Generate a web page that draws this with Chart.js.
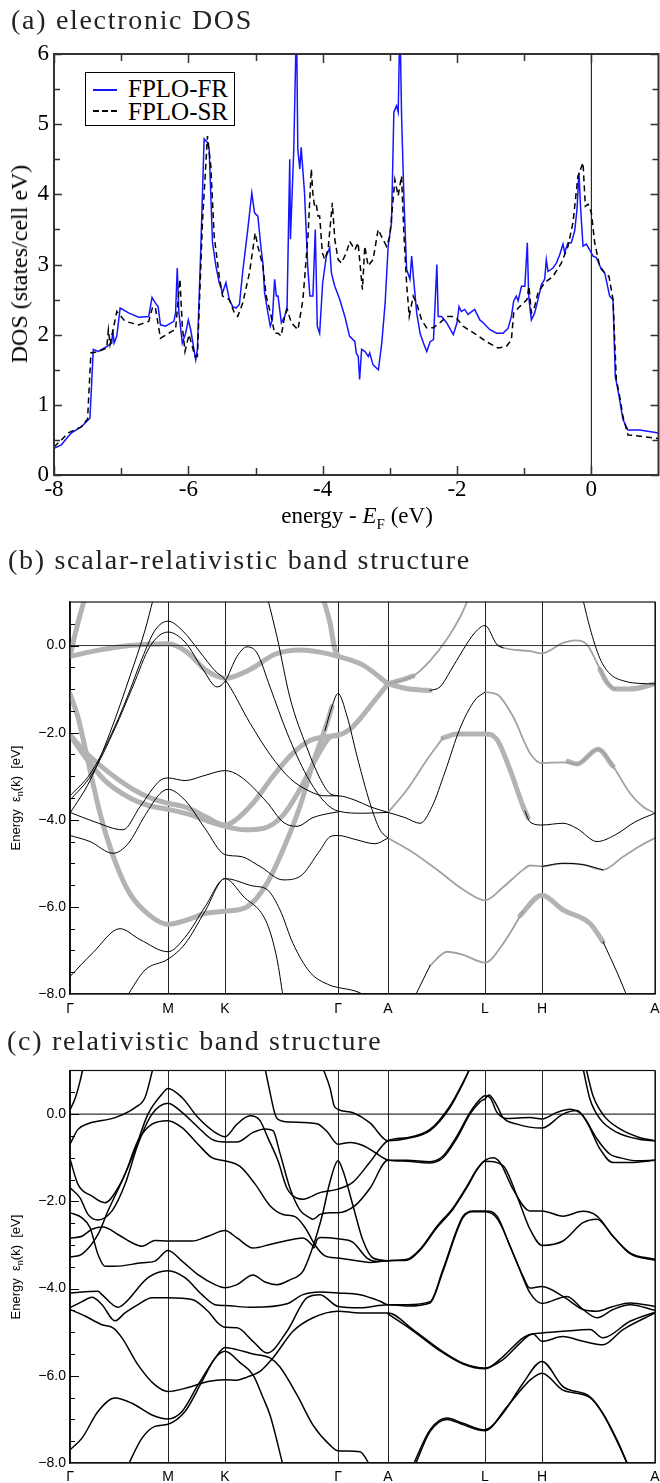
<!DOCTYPE html>
<html><head><meta charset="utf-8">
<script src="https://cdn.jsdelivr.net/npm/chart.js@4.4.0/dist/chart.umd.min.js"></script>
<style>
body{margin:0;background:#fff;width:660px;height:1483px;position:relative;overflow:hidden;}
.t{position:absolute;font-family:"Liberation Serif",serif;color:#222;white-space:nowrap;line-height:1;}
.ttl{font-size:28px;letter-spacing:1.7px;}
.rot{transform:translate(-50%,-50%) rotate(-90deg);}
canvas{position:absolute;left:0;}
</style></head><body>

<canvas id="cA" width="660" height="545" style="top:0px;width:660px;height:545px"></canvas>
<canvas id="cB" width="660" height="435" style="top:585px;width:660px;height:435px"></canvas>
<canvas id="cC" width="660" height="428" style="top:1055px;width:660px;height:428px"></canvas>

<div class="t ttl" style="left:11px;top:6px;">(a) electronic DOS</div>
<div class="t ttl" style="left:8px;top:546px;">(b) scalar-relativistic band structure</div>
<div class="t ttl" style="left:7px;top:1027px;">(c) relativistic band structure</div>

<div class="t" style="left:357px;top:518px;font-size:23px;transform:translate(-50%,-50%);color:#000">energy - <i>E</i><sub style="font-size:15px">F</sub> (eV)</div>
<div class="t rot" style="left:19px;top:264px;font-size:24px;color:#000">DOS (states/cell eV)</div>
<div class="t rot" style="left:17px;top:798px;font-size:13px;font-family:'Liberation Sans',sans-serif;color:#000">Energy&nbsp;&nbsp;ε<sub style="font-size:9px">n</sub>(k)&nbsp;&nbsp;[eV]</div>
<div class="t rot" style="left:17px;top:1267px;font-size:13px;font-family:'Liberation Sans',sans-serif;color:#000">Energy&nbsp;&nbsp;ε<sub style="font-size:9px">n</sub>(k)&nbsp;&nbsp;[eV]</div>

<div style="position:absolute;left:85px;top:72px;width:148px;height:52px;border:1px solid #000;background:#fff;">
  <div style="position:absolute;left:7px;top:16px;width:24px;border-top:2px solid #1515ff"></div>
  <div class="t" style="left:42px;top:3px;font-size:25px;color:#000">FPLO-FR</div>
  <div style="position:absolute;left:7px;top:37px;width:24px;border-top:2px dashed #000"></div>
  <div class="t" style="left:42px;top:26px;font-size:25px;color:#000">FPLO-SR</div>
</div>

<script>
// ================= DATA =================
// (a) DOS, full relativistic (FPLO-FR)
const dosEnergyFR = [-8.0,-7.89,-7.79,-7.74,-7.59,-7.465,-7.415,-7.34,-7.215,-7.14,
 -7.125,-7.105,-7.065,-7.015,-6.89,-6.74,-6.59,-6.54,-6.49,-6.45,
 -6.415,-6.34,-6.215,-6.19,-6.165,-6.14,-6.09,-6.04,-6.0,-5.965,
 -5.89,-5.865,-5.815,-5.765,-5.715,-5.69,-5.64,-5.59,-5.54,-5.49,
 -5.44,-5.39,-5.34,-5.29,-5.24,-5.19,-5.115,-5.055,-5.015,-4.99,
 -4.965,-4.915,-4.89,-4.865,-4.815,-4.78,-4.75,-4.715,-4.69,-4.665,
 -4.615,-4.565,-4.53,-4.49,-4.48,-4.43,-4.39,-4.37,-4.34,-4.32,
 -4.27,-4.22,-4.19,-4.145,-4.11,-4.08,-4.045,-4.0,-3.945,-3.895,
 -3.87,-3.82,-3.745,-3.67,-3.6,-3.52,-3.5,-3.47,-3.45,-3.42,
 -3.37,-3.32,-3.3,-3.25,-3.17,-3.12,-3.07,-3.025,-2.975,-2.94,
 -2.9,-2.875,-2.85,-2.825,-2.79,-2.75,-2.7,-2.675,-2.65,-2.6,
 -2.55,-2.5,-2.45,-2.4,-2.35,-2.3,-2.28,-2.23,-2.155,-2.055,
 -2.0,-1.97,-1.935,-1.886,-1.836,-1.737,-1.66,-1.61,-1.51,-1.41,
 -1.315,-1.24,-1.19,-1.156,-1.117,-1.09,-1.04,-0.99,-0.953,-0.933,
 -0.893,-0.844,-0.794,-0.744,-0.695,-0.67,-0.645,-0.571,-0.521,-0.471,
 -0.422,-0.397,-0.347,-0.298,-0.248,-0.213,-0.184,-0.159,-0.124,-0.074,
 -0.025,0.025,0.074,0.149,0.199,0.273,0.323,0.357,0.397,0.471,
 0.546,0.72,1.0];
const dosFR = [0.38,0.43,0.55,0.60,0.69,0.81,1.79,1.76,1.83,1.88,
 2.07,1.88,1.98,2.38,2.31,2.25,2.26,2.53,2.45,2.4,
 2.14,2.12,2.19,2.31,2.95,2.31,1.88,2.02,2.21,2.07,
 1.64,1.79,3.21,4.79,4.74,4.64,3.31,2.98,2.74,2.6,
 2.74,2.5,2.4,2.38,2.43,2.9,3.5,4.02,3.74,3.71,
 3.69,3.21,3.02,2.6,2.31,2.12,2.21,2.79,2.55,2.55,
 2.17,2.26,2.4,4.5,3.36,4.64,6.5,4.64,4.36,4.67,
 4.02,2.93,2.55,2.55,3.5,2.12,2.02,2.74,3.12,3.24,
 2.88,2.69,2.5,2.26,1.98,1.9,1.74,1.69,1.36,1.79,
 1.76,1.69,1.74,1.57,1.5,1.88,2.45,3.26,3.6,5.17,
 5.26,5.17,6.5,5.12,3.93,2.93,2.79,3.12,2.83,2.31,
 2.02,1.88,1.76,1.9,1.93,3.0,2.26,2.26,2.17,2.0,
 2.17,2.4,2.33,2.36,2.29,2.36,2.21,2.17,2.07,2.02,
 2.02,2.09,2.26,2.48,2.55,2.48,2.69,2.69,3.31,2.55,
 2.21,2.31,2.5,2.71,2.79,3.07,2.9,2.95,3.02,3.14,
 3.29,3.17,3.31,3.31,3.48,3.79,4.31,3.79,3.26,3.29,
 3.21,3.12,3.1,2.93,2.88,2.55,2.5,1.4,1.21,0.79,
 0.64,0.64,0.6];
// (a) DOS, scalar relativistic (FPLO-SR)
const dosEnergySR = [-8.0,-7.89,-7.79,-7.59,-7.5,-7.45,-7.34,-7.215,-7.19,-7.165,
 -7.065,-6.94,-6.74,-6.59,-6.53,-6.49,-6.415,-6.24,-6.19,-6.125,
 -6.09,-6.05,-5.99,-5.9,-5.865,-5.79,-5.715,-5.665,-5.615,-5.54,
 -5.49,-5.39,-5.315,-5.265,-5.19,-5.09,-5.005,-4.965,-4.89,-4.84,
 -4.766,-4.716,-4.667,-4.617,-4.567,-4.527,-4.468,-4.368,-4.294,-4.219,
 -4.169,-4.144,-4.119,-4.095,-4.07,-4.045,-4.005,-3.97,-3.92,-3.856,
 -3.82,-3.77,-3.72,-3.647,-3.597,-3.52,-3.473,-3.408,-3.373,-3.323,
 -3.249,-3.174,-3.124,-3.05,-3.0,-2.925,-2.876,-2.826,-2.791,-2.751,
 -2.711,-2.652,-2.602,-2.527,-2.453,-2.353,-2.254,-2.154,-2.055,-2.01,
 -1.91,-1.712,-1.563,-1.39,-1.266,-1.19,-1.156,-1.067,-0.958,-0.928,
 -0.893,-0.844,-0.794,-0.695,-0.571,-0.447,-0.347,-0.273,-0.199,-0.124,
 -0.089,-0.05,0.0,0.05,0.124,0.199,0.263,0.323,0.372,0.422,
 0.471,0.546,0.67,1.0];
const dosSR = [0.40,0.5,0.6,0.69,0.8,1.74,1.76,1.81,2.07,1.86,
 2.33,2.19,2.14,2.19,2.4,2.38,1.95,2.05,2.07,2.79,
 2.12,1.76,2.0,1.69,1.69,3.6,4.83,4.4,3.4,2.83,
 2.55,2.5,2.31,2.26,2.45,2.88,3.45,3.26,2.98,2.55,
 2.26,2.02,2.02,1.98,2.26,2.36,2.17,2.07,2.5,3.4,
 4.36,3.98,3.83,3.86,3.69,3.69,3.17,3.07,3.21,3.88,
 3.36,3.07,3.02,3.17,3.33,3.21,3.31,2.64,3.26,2.98,
 3.07,3.5,3.4,3.26,3.4,4.21,3.98,4.26,3.45,2.74,
 2.26,2.55,2.45,2.21,2.1,2.1,2.17,2.26,2.26,2.24,
 2.12,2.0,1.9,1.81,1.83,1.93,2.31,2.4,2.5,2.69,
 2.31,2.4,2.6,2.74,2.83,3.02,3.26,3.6,4.26,4.45,
 3.83,3.86,3.74,3.31,2.98,2.88,2.83,2.5,1.36,1.12,
 0.83,0.57,0.56,0.52];
const fermiLineDOS = [[0,0],[0,6]];
const dosXLabelTicks = [-8,-6,-4,-2,0];
const dosXMinorTicks = [-7,-5,-3,-1];
const dosYLabelTicks = [0,1,2,3,4,5,6];
const dosYMinorTicks = [0.5,1.5,2.5,3.5,4.5,5.5];

// band structure path
const kPoints = [0,0.98,1.55,2.68,3.18,4.15,4.72,5.85];
const kLabels = ['Γ','M','K','Γ','A','L','H','A'];
const bandYLabelTicks = [-8,-6,-4,-2,0];
const bandYMajorInner = [-6,-4,-2,0];
const bandYMinorInner = [-7.5,-7,-6.5,-5.5,-5,-4.5,-3.5,-3,-2.5,-1.5,-1,-0.5,0.5];
const fermiLineBand = [[0,0],[5.85,0]];

// (b) scalar-relativistic: thin black bands [k, E]
const srBlack = [
 [[0,-3.45],[0.2,-2.95],[0.4,-2.1],[0.57,-1.2],[0.72,-0.3],[0.85,0.35],[0.98,0.56],[1.13,0.33],[1.3,-0.15],[1.45,-0.58],[1.55,-0.78],[1.8,-1.78],[2.0,-2.5],[2.2,-3.05],[2.4,-3.35],[2.55,-3.45],[2.68,-3.45],[2.85,-3.55],[3.0,-3.7],[3.18,-3.83]],
 [[0,-3.55],[0.22,-2.95],[0.45,-1.9],[0.63,-0.93],[0.8,-0.02],[0.98,0.31],[1.15,0.08],[1.33,-0.55],[1.47,-0.95],[1.55,-0.82],[1.67,-0.25],[1.77,-0.03],[1.87,-0.17],[2.0,-0.95],[2.17,-2.0],[2.37,-3.0],[2.55,-3.6],[2.68,-3.8],[2.93,-3.85],[3.18,-3.83]],
 [[0,-3.85],[0.2,-3.1],[0.4,-2.0],[0.6,-0.7],[0.75,0.35],[0.83,1.05]],
 [[1.98,1.05],[2.07,0.2],[2.2,-1.2],[2.37,-2.35],[2.5,-3.05],[2.6,-3.4],[2.68,-3.45]],
 [[0,-3.83],[0.25,-4.05],[0.53,-4.23],[0.7,-3.7],[0.9,-3.1],[0.98,-3.04],[1.15,-3.1],[1.35,-2.98],[1.55,-2.87],[1.7,-3.0],[1.97,-3.6],[2.13,-4.05],[2.27,-4.15],[2.43,-3.95],[2.6,-3.85],[2.68,-3.82]],
 [[0,-4.36],[0.2,-4.5],[0.43,-4.77],[0.58,-4.55],[0.75,-3.9],[0.9,-3.4],[0.98,-3.3],[1.15,-3.55],[1.35,-4.2],[1.55,-4.8],[1.7,-4.84],[1.9,-5.07],[2.13,-5.38],[2.3,-5.3],[2.5,-4.7],[2.6,-4.39],[2.68,-4.36],[2.85,-4.45],[3.05,-4.55],[3.18,-4.42]],
 [[0,-7.6],[0.23,-7.05],[0.5,-6.5],[0.7,-6.75],[0.98,-7.03],[1.15,-6.7],[1.35,-6.0],[1.55,-5.35],[1.73,-5.75],[1.97,-6.38],[2.07,-7.2],[2.13,-8.05]],
 [[0.57,-8.05],[0.75,-7.45],[0.98,-7.2],[1.15,-6.85],[1.35,-6.1],[1.55,-5.35],[1.83,-5.52],[1.97,-5.6],[2.1,-6.07],[2.23,-6.84],[2.4,-7.5],[2.6,-7.8],[2.68,-7.85],[2.85,-7.93],[2.97,-8.05]],
 [[2.55,-1.95],[2.62,-1.4],[2.68,-1.1],[2.77,-1.62],[2.87,-2.54],[3.0,-3.62],[3.1,-4.23],[3.18,-4.42]],
 [[3.18,-3.83],[3.35,-3.95],[3.5,-4.08],[3.62,-3.7],[3.75,-2.9],[3.9,-1.9],[4.05,-1.25],[4.15,-1.07]],
 [[3.6,-1.03],[3.7,-0.95],[3.8,-0.6],[3.93,-0.1],[4.05,0.3],[4.15,0.46],[4.27,0.02],[4.33,-0.05]],
 [[5.13,1.05],[5.2,0.4],[5.3,-0.3],[5.4,-0.65],[5.55,-0.82],[5.7,-0.87],[5.85,-0.88]],
 [[4.55,-3.8],[4.6,-4.05],[4.72,-4.12],[4.93,-4.08],[5.07,-4.2],[5.27,-4.5],[5.45,-4.35],[5.65,-4.05],[5.85,-3.85]],
 [[4.72,-5.07],[4.93,-5.0],[5.13,-5.03],[5.33,-5.15]],
 [[3.45,-8.05],[3.6,-7.35]],
 [[5.33,-6.8],[5.47,-7.5],[5.57,-8.05]]
];
// (b) thin grey (low weight) bands
const srGreyThin = [
 [[4.15,-1.07],[4.27,-1.12],[4.43,-1.63],[4.6,-2.47],[4.72,-2.7],[4.93,-2.68],[5.07,-2.72],[5.28,-2.38],[5.43,-2.77],[5.6,-3.39],[5.73,-3.7],[5.85,-3.85]],
 [[4.27,0.02],[4.33,-0.05],[4.6,-0.13],[4.72,-0.18],[4.93,0.06],[5.05,0.12],[5.17,0.02],[5.27,-0.4],[5.37,-0.85],[5.45,-1.0]],
 [[3.18,-0.88],[3.43,-0.7],[3.6,-0.35],[3.77,0.15],[3.9,0.65],[3.98,1.05]],
 [[3.18,-3.83],[3.37,-3.31],[3.57,-2.62],[3.73,-2.12]],
 [[3.18,-4.42],[3.43,-4.75],[3.7,-5.2],[3.93,-5.6],[4.15,-5.85],[4.33,-5.55],[4.53,-5.15],[4.6,-5.05],[4.72,-5.07],[4.93,-5.0],[5.13,-5.03],[5.33,-5.15],[5.53,-4.85],[5.7,-4.6],[5.85,-4.42]],
 [[3.6,-7.35],[3.77,-7.03],[3.93,-7.1],[4.15,-7.28],[4.33,-6.85],[4.53,-6.1]]
];
// (b) fat (high weight) bands
const srFat = [
 [[0,-0.25],[0.3,-0.1],[0.6,0.0],[0.98,0.04],[1.17,-0.15],[1.35,-0.55],[1.55,-0.75],[1.8,-0.55],[2.05,-0.2],[2.3,-0.1],[2.5,-0.15],[2.68,-0.25],[2.93,-0.45],[3.18,-0.88]],
 [[0,-0.25],[0.05,0.25],[0.1,0.7],[0.15,1.1]],
 [[2.53,1.1],[2.6,0.52],[2.65,-0.1],[2.68,-0.22]],
 [[0,-2.05],[0.13,-2.39],[0.3,-2.75],[0.63,-3.3],[0.83,-3.52],[0.98,-3.62],[1.17,-3.72],[1.37,-3.95],[1.55,-4.12],[1.63,-4.05],[1.83,-3.62],[2.03,-3.0],[2.23,-2.47],[2.4,-2.18],[2.6,-2.08],[2.68,-2.06],[2.8,-1.92],[2.93,-1.6],[3.05,-1.25],[3.18,-0.88]],
 [[0,-2.05],[0.15,-2.55],[0.35,-3.1],[0.6,-3.5],[0.8,-3.68],[0.98,-3.76],[1.2,-3.88],[1.4,-4.05],[1.55,-4.15],[1.75,-4.23],[1.93,-4.2],[2.13,-3.9],[2.3,-3.3],[2.47,-2.55],[2.6,-2.1],[2.68,-2.05]],
 [[0,-1.1],[0.08,-1.65],[0.17,-2.55],[0.3,-3.85],[0.45,-4.95],[0.6,-5.7],[0.8,-6.2],[0.98,-6.4],[1.17,-6.3],[1.35,-6.15],[1.55,-6.1],[1.77,-6.0],[1.97,-5.46],[2.13,-4.69],[2.3,-3.69],[2.43,-2.7],[2.57,-1.78],[2.62,-1.4]],
 [[3.18,-0.88],[3.35,-0.98],[3.5,-1.02],[3.6,-1.03]],
 [[3.18,-0.88],[3.3,-0.8],[3.43,-0.7]],
 [[5.3,-0.55],[5.37,-0.85],[5.45,-1.0],[5.6,-1.0],[5.85,-0.88]],
 [[3.73,-2.12],[3.87,-2.03],[4.15,-2.03],[4.27,-2.16],[4.4,-2.85],[4.53,-3.69],[4.58,-3.95]],
 [[4.98,-2.66],[5.07,-2.72],[5.28,-2.38],[5.43,-2.77]],
 [[4.5,-6.2],[4.72,-5.73],[4.93,-6.07],[5.2,-6.38],[5.33,-6.8]]
];
// (c) relativistic bands
const frBands = [
 [[0,0.1],[0.05,0.35],[0.1,0.75],[0.13,1.05]],
 [[0,-0.69],[0.08,-0.35],[0.18,-0.22],[0.45,-0.08],[0.65,0.15],[0.75,0.38],[0.83,1.05]],
 [[0,-1.03],[0.08,-1.61],[0.22,-1.88],[0.35,-2.03],[0.48,-1.69],[0.62,-1.0],[0.78,0.0],[0.92,0.46],[0.98,0.59],[1.12,0.38],[1.28,-0.08],[1.45,-0.42],[1.55,-0.52],[1.67,-0.23],[1.8,-0.04],[1.9,-0.15],[1.98,-0.55],[2.08,-1.07],[2.17,-1.7],[2.27,-1.93],[2.33,-1.95],[2.5,-1.8],[2.68,-1.72],[2.83,-1.56],[3.0,-1.1],[3.18,-0.61],[3.37,-0.54],[3.6,-0.35],[3.8,0.19],[3.93,0.73],[4.0,1.05]],
 [[0,-1.69],[0.1,-1.92],[0.18,-2.3],[0.28,-2.43],[0.42,-2.22],[0.55,-1.61],[0.68,-0.69],[0.82,0.0],[0.98,0.25],[1.12,0.04],[1.28,-0.3],[1.42,-0.58],[1.55,-0.64],[1.67,-0.64],[1.83,-0.42],[1.95,-0.34],[2.03,-0.38],[2.1,-0.9],[2.2,-1.7],[2.3,-2.2],[2.4,-2.38],[2.43,-2.41],[2.5,-2.3],[2.6,-2.26],[2.68,-2.26],[2.85,-2.1],[3.0,-1.7],[3.18,-1.06],[3.37,-1.06],[3.6,-1.09],[3.73,-0.96],[3.87,-0.5],[4.0,0.04],[4.1,0.34],[4.15,0.42],[4.2,0.38],[4.27,0.04],[4.37,-0.1],[4.6,-0.08],[4.72,-0.11],[4.87,0.04],[5.0,0.11],[5.13,-0.04],[5.27,-0.57],[5.4,-0.92],[5.5,-1.0],[5.67,-1.07],[5.85,-1.06]],
 [[1.95,1.05],[2.0,0.5],[2.05,0.0],[2.08,-0.12],[2.2,-0.18],[2.47,-0.22],[2.57,-0.4],[2.68,-0.69],[2.8,-0.65],[2.93,-0.72],[3.05,-0.88],[3.18,-1.05],[3.37,-1.08],[3.6,-1.12],[3.73,-1.0],[3.87,-0.55],[4.0,0.0],[4.1,0.28],[4.15,0.35],[4.19,0.44],[4.27,0.19],[4.33,-0.08],[4.47,-0.23],[4.72,-0.32],[4.93,0.0],[5.07,0.08],[5.17,-0.19],[5.3,-0.8],[5.43,-1.11],[5.6,-1.11],[5.85,-1.06]],
 [[2.53,1.05],[2.6,0.6],[2.64,0.2],[2.68,0.11],[2.83,0.03],[3.0,-0.2],[3.18,-0.61],[3.37,-0.56],[3.6,-0.38],[3.8,0.15],[3.93,0.7],[4.0,1.05]],
 [[0,-3.28],[0.12,-3.21],[0.28,-2.76],[0.38,-2.22],[0.55,-1.38],[0.68,-0.61],[0.82,-0.23],[0.98,-0.15],[1.12,-0.31],[1.28,-0.69],[1.42,-1.0],[1.55,-1.07],[1.7,-1.2],[1.85,-1.6],[2.0,-2.1],[2.13,-2.3],[2.25,-2.35],[2.35,-2.6],[2.45,-3.0],[2.55,-3.25],[2.68,-3.3],[2.83,-3.35],[3.0,-3.4],[3.18,-3.36],[3.37,-3.33],[3.5,-3.1],[3.67,-2.57],[3.83,-2.15],[3.97,-1.65],[4.07,-1.26],[4.15,-1.06],[4.23,-1.0],[4.3,-1.11],[4.43,-1.72],[4.6,-2.22],[4.72,-2.22],[4.93,-2.34],[5.13,-2.23],[5.27,-2.34],[5.43,-2.8],[5.6,-3.18],[5.85,-3.33]],
 [[0,-2.84],[0.12,-2.8],[0.22,-2.64],[0.33,-2.59],[0.48,-2.76],[0.62,-2.95],[0.72,-3.03],[0.85,-2.9],[0.98,-2.91],[1.22,-2.91],[1.38,-2.8],[1.55,-2.67],[1.67,-2.84],[1.83,-3.07],[2.0,-2.99],[2.17,-2.9],[2.33,-2.84],[2.42,-3.0],[2.44,-3.07],[2.47,-2.88],[2.5,-2.83],[2.68,-2.86],[2.83,-2.94],[2.97,-3.3],[3.07,-3.38],[3.18,-3.36],[3.37,-3.35],[3.5,-3.12],[3.67,-2.6],[3.83,-2.18],[3.97,-1.68],[4.07,-1.28],[4.15,-1.08],[4.33,-1.18],[4.47,-1.88],[4.6,-2.64],[4.72,-3.01],[4.93,-2.91],[5.13,-2.49],[5.27,-2.41],[5.43,-2.8],[5.6,-3.2],[5.85,-3.35]],
 [[0,-2.26],[0.12,-2.38],[0.2,-2.6],[0.28,-3.22],[0.35,-3.49],[0.45,-3.49],[0.72,-3.41],[0.85,-3.37],[0.98,-3.13],[1.12,-3.37],[1.28,-3.68],[1.45,-3.91],[1.55,-3.98],[1.67,-3.91],[1.83,-3.69],[1.95,-3.85],[2.07,-3.91],[2.2,-3.8],[2.33,-3.6],[2.42,-3.1],[2.47,-2.75],[2.53,-2.25],[2.6,-1.55],[2.68,-1.07],[2.73,-1.3],[2.83,-2.1],[2.93,-2.9],[3.03,-3.3],[3.18,-3.36]],
 [[0,-4.1],[0.28,-4.06],[0.32,-4.14],[0.48,-4.43],[0.55,-4.33],[0.78,-3.75],[0.98,-3.59],[1.15,-3.75],[1.32,-4.14],[1.45,-4.37],[1.55,-4.39],[1.83,-4.43],[2.17,-4.35],[2.33,-4.14],[2.5,-4.08],[2.68,-4.1],[2.9,-4.14],[3.1,-4.29],[3.18,-4.37],[3.37,-4.37],[3.6,-4.3],[3.73,-3.56],[3.87,-2.64],[3.93,-2.34],[4.03,-2.22],[4.15,-2.22],[4.27,-2.34],[4.4,-3.03],[4.53,-3.72],[4.6,-3.99],[4.72,-3.95],[4.93,-4.18],[5.13,-4.48],[5.27,-4.52],[5.43,-4.41],[5.6,-4.33],[5.85,-4.41]],
 [[0,-4.44],[0.12,-4.3],[0.22,-4.2],[0.32,-4.37],[0.45,-4.74],[0.55,-4.56],[0.68,-4.37],[0.82,-4.21],[0.98,-4.21],[1.22,-4.25],[1.38,-4.52],[1.48,-4.79],[1.55,-4.89],[1.67,-4.9],[1.83,-5.21],[1.97,-5.48],[2.17,-4.98],[2.37,-4.21],[2.5,-4.14],[2.68,-4.41],[2.9,-4.44],[3.18,-4.37],[3.37,-4.4],[3.6,-4.33],[3.73,-3.6],[3.87,-2.68],[3.93,-2.37],[4.03,-2.24],[4.15,-2.24],[4.27,-2.39],[4.47,-3.41],[4.6,-4.1],[4.72,-4.34],[4.97,-4.18],[5.13,-4.48],[5.27,-4.67],[5.43,-4.48],[5.6,-4.37],[5.85,-4.5]],
 [[0,-4.48],[0.15,-4.63],[0.32,-4.83],[0.43,-4.9],[0.52,-5.13],[0.68,-5.75],[0.85,-6.21],[0.98,-6.36],[1.18,-6.27],[1.38,-6.13],[1.55,-6.09],[1.67,-6.1],[1.77,-6.03],[1.9,-5.9],[2.03,-5.59],[2.23,-4.98],[2.43,-4.67],[2.68,-4.52],[2.9,-4.56],[3.18,-4.56],[3.43,-4.94],[3.7,-5.4],[3.93,-5.71],[4.15,-5.82],[4.33,-5.63],[4.5,-5.25],[4.6,-5.06],[4.72,-5.02],[4.93,-4.98],[5.2,-4.94],[5.33,-5.13],[5.6,-4.75],[5.85,-4.54]],
 [[3.18,-4.58],[3.43,-4.97],[3.7,-5.43],[3.93,-5.73],[4.15,-5.84],[4.33,-5.56],[4.53,-5.13],[4.63,-5.04],[4.72,-5.21],[4.93,-5.1],[5.13,-5.21],[5.33,-5.29],[5.53,-4.94],[5.85,-4.56]],
 [[0,-7.7],[0.12,-7.43],[0.28,-6.82],[0.45,-6.51],[0.62,-6.63],[0.82,-6.9],[0.98,-6.99],[1.12,-6.82],[1.28,-6.21],[1.45,-5.6],[1.55,-5.35],[1.67,-5.4],[1.83,-5.5],[2.0,-5.59],[2.1,-5.8],[2.27,-6.44],[2.43,-7.13],[2.6,-7.59],[2.68,-7.72],[2.9,-7.74],[3.0,-8.05]],
 [[0.58,-8.05],[0.72,-7.43],[0.85,-7.16],[0.98,-7.11],[1.15,-6.82],[1.32,-6.13],[1.45,-5.6],[1.55,-5.44],[1.7,-5.7],[1.83,-5.98],[1.93,-6.5],[2.0,-6.9],[2.13,-8.05]],
 [[3.43,-8.05],[3.6,-7.24],[3.77,-6.97],[3.93,-7.09],[4.15,-7.24],[4.33,-6.86],[4.53,-6.17],[4.72,-5.67],[4.93,-6.25],[5.2,-6.48],[5.33,-6.86],[5.47,-7.47],[5.58,-8.05]],
 [[3.45,-8.05],[3.6,-7.28],[3.77,-7.0],[3.93,-7.12],[4.15,-7.26],[4.37,-6.71],[4.6,-6.1],[4.72,-5.94],[4.93,-6.33],[5.2,-6.5],[5.33,-6.88],[5.47,-7.5],[5.58,-8.05]],
 [[5.13,1.05],[5.2,0.34],[5.3,-0.11],[5.47,-0.42],[5.7,-0.58],[5.85,-0.61]],
 [[5.16,1.05],[5.23,0.42],[5.34,-0.04],[5.5,-0.34],[5.7,-0.54],[5.85,-0.61]]
];

// ================= RENDERING =================
const innerTicks = {
  id: 'innerTicks',
  afterDraw(chart, args, o) {
    const {ctx, chartArea: a, scales} = chart;
    ctx.save();
    ctx.strokeStyle = o.color || '#000';
    ctx.lineWidth = o.width || 1;
    ctx.beginPath();
    (o.x || []).forEach(g => g.values.forEach(v => {
      const px = Math.round(scales.x.getPixelForValue(v)) + 0.5;
      if (g.bottom) { ctx.moveTo(px, a.bottom); ctx.lineTo(px, a.bottom - g.len); }
      if (g.top) { ctx.moveTo(px, a.top); ctx.lineTo(px, a.top + g.len); }
    }));
    (o.y || []).forEach(g => g.values.forEach(v => {
      const py = Math.round(scales.y.getPixelForValue(v)) + 0.5;
      if (g.left) { ctx.moveTo(a.left, py); ctx.lineTo(a.left + g.len, py); }
      if (g.right) { ctx.moveTo(a.right, py); ctx.lineTo(a.right - g.len, py); }
    }));
    ctx.stroke();
    if (o.frame) {
      ctx.lineWidth = o.frame;
      ctx.strokeStyle = o.frameColor || '#000';
      ctx.strokeRect(a.left, a.top, a.right - a.left, a.bottom - a.top);
    }
    ctx.restore();
  }
};

const toXY = pts => pts.map(p => ({x: p[0], y: p[1]}));
const zipXY = (xs, ys) => xs.map((x, i) => ({x: x, y: ys[i]}));
// keep the plot area fixed: labels at the ends must not shrink it
const noEdgePad = s => { s.paddingLeft = 0; s.paddingRight = 0; };

// ---- (a) DOS ----
new Chart(document.getElementById('cA'), {
  type: 'line',
  data: { datasets: [
    {data: zipXY(dosEnergyFR, dosFR), borderColor: '#1515ff', borderWidth: 1.5, pointRadius: 0, tension: 0, order: 1},
    {data: zipXY(dosEnergySR, dosSR), borderColor: '#000', borderWidth: 1.5, borderDash: [6, 4], pointRadius: 0, tension: 0, order: 0},
    {data: toXY(fermiLineDOS), borderColor: '#000', borderWidth: 1, pointRadius: 0, order: 2}
  ]},
  options: {
    responsive: false, animation: false, events: [],
    layout: {padding: {top: 54, right: 1.5, left: 0, bottom: 0}},
    plugins: {legend: {display: false}, tooltip: {enabled: false},
      innerTicks: {
        x: [{values: dosXLabelTicks, len: 9, top: true, bottom: true}, {values: dosXMinorTicks, len: 7, top: true, bottom: true}],
        y: [{values: dosYLabelTicks, len: 8, left: true, right: true}, {values: dosYMinorTicks, len: 6, left: true, right: true}],
        color: '#333', width: 1.5, frame: 2, frameColor: '#333'}},
    scales: {
      x: {type: 'linear', min: -8, max: 1,
        afterBuildTicks: s => { s.ticks = dosXLabelTicks.map(v => ({value: v})); },
        afterFit: s => { s.height = 70; noEdgePad(s); },
        ticks: {callback: v => String(v), font: {family: 'Liberation Serif', size: 23}, color: '#000', padding: 1, maxRotation: 0, autoSkip: false},
        grid: {display: false, drawTicks: false},
        border: {display: true, color: '#333', width: 2}},
      y: {type: 'linear', min: 0, max: 6,
        afterBuildTicks: s => { s.ticks = dosYLabelTicks.map(v => ({value: v})); },
        afterFit: s => { s.width = 54; },
        ticks: {callback: v => String(v), font: {family: 'Liberation Serif', size: 23}, color: '#000', padding: 5},
        grid: {display: false, drawTicks: false},
        border: {display: true, color: '#333', width: 2}}
    }
  },
  plugins: [innerTicks]
});

// ---- band-structure helpers ----
function bandSets(list, color, width, order) {
  return list.map(b => ({data: toXY(b), borderColor: color, borderWidth: width, pointRadius: 0,
    cubicInterpolationMode: 'monotone', borderCapStyle: 'round', borderJoinStyle: 'round', fill: false, order: order}));
}
const fmtE = v => v === 0 ? '0.0' : '\u2212' + Math.abs(v).toFixed(1);
function bandOptions(padTop, axisH, labelPad) {
  return {
    responsive: false, animation: false, events: [],
    layout: {padding: {top: padTop, right: 5, left: 0, bottom: 0}},
    plugins: {legend: {display: false}, tooltip: {enabled: false},
      innerTicks: {
        y: [{values: bandYMajorInner, len: 9, left: true}, {values: bandYMinorInner, len: 5, left: true}],
        color: '#000', width: 1, frame: 1.2, frameColor: '#111'}},
    scales: {
      x: {type: 'linear', min: 0, max: 5.85,
        afterBuildTicks: s => { s.ticks = kPoints.map(v => ({value: v})); },
        afterFit: s => { s.height = axisH; noEdgePad(s); },
        ticks: {callback: (v, i) => kLabels[i], font: {family: 'Liberation Sans', size: 14}, color: '#000', padding: labelPad, maxRotation: 0, autoSkip: false},
        grid: {display: true, drawOnChartArea: true, drawTicks: false, color: '#222', lineWidth: 1},
        border: {display: true, color: '#111', width: 1.2}},
      y: {type: 'linear', min: -8, max: 1,
        afterBuildTicks: s => { s.ticks = bandYLabelTicks.map(v => ({value: v})); },
        afterFit: s => { s.width = 70; },
        ticks: {callback: v => fmtE(v), font: {family: 'Liberation Sans', size: 14}, color: '#000', padding: 4},
        grid: {display: false, drawTicks: false},
        border: {display: true, color: '#111', width: 1.2}}
    }
  };
}

// ---- (b) scalar relativistic ----
new Chart(document.getElementById('cB'), {
  type: 'line',
  data: { datasets: [
    {data: toXY(fermiLineBand), borderColor: '#333', borderWidth: 1, pointRadius: 0, order: 0},
    ...bandSets(srBlack, '#000', 1, 1),
    ...bandSets(srGreyThin, '#a2a2a2', 1.8, 2),
    ...bandSets(srFat, '#b3b3b3', 5, 3)
  ]},
  options: bandOptions(17, 26, 7),
  plugins: [innerTicks]
});

// ---- (c) relativistic ----
new Chart(document.getElementById('cC'), {
  type: 'line',
  data: { datasets: [
    {data: toXY(fermiLineBand), borderColor: '#000', borderWidth: 1, pointRadius: 0, order: 0},
    ...bandSets(frBands, '#000', 1.5, 1)
  ]},
  options: bandOptions(15.5, 20, 6),
  plugins: [innerTicks]
});
</script>
</body></html>
